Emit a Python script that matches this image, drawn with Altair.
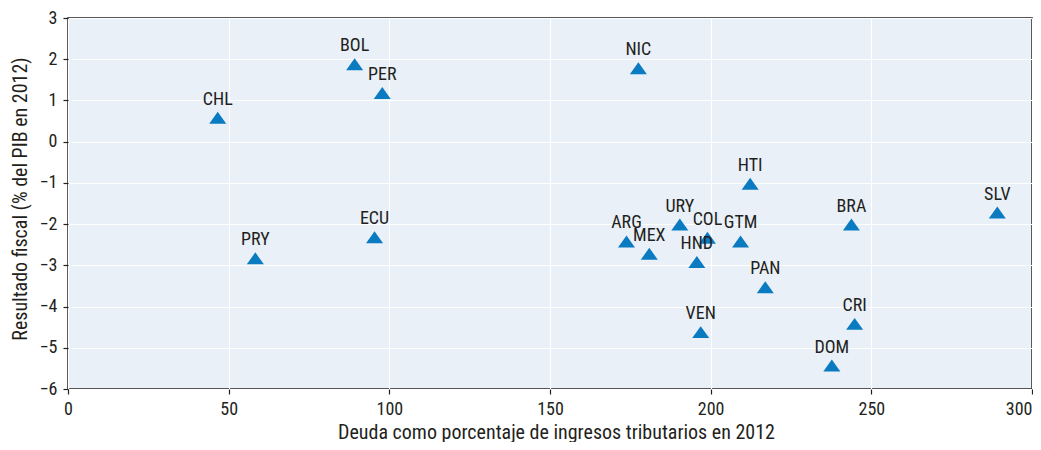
import altair as alt
import pandas as pd

paises = ["CHL", "BOL", "PER", "NIC", "PRY", "ECU", "ARG", "MEX", "URY", "COL",
          "HND", "GTM", "HTI", "PAN", "VEN", "DOM", "CRI", "BRA", "SLV"]
deuda = [46.6, 89.2, 97.8, 177.5, 58.3, 95.4, 173.8, 180.9, 190.4, 199.0,
         195.7, 209.3, 212.3, 217.0, 196.9, 237.7, 244.8, 243.8, 289.2]
resultado = [0.58, 1.88, 1.18, 1.78, -2.83, -2.32, -2.42, -2.72, -2.01, -2.33,
             -2.92, -2.42, -1.02, -3.53, -4.62, -5.43, -4.42, -2.01, -1.72]

x_ticks = [0, 50, 100, 150, 200, 250, 300]
y_ticks = [-6, -5, -4, -3, -2, -1, 0, 1, 2, 3]

df = pd.DataFrame({"pais": paises, "deuda": deuda, "resultado": resultado})

FONT = "Liberation Sans Narrow, Roboto Condensed, DejaVu Sans Condensed, Arial Narrow, sans-serif"
INK = "#231f20"

W, H = 964, 371
TOP = 10

base = alt.Chart(df).encode(
    x=alt.X("deuda:Q",
            scale=alt.Scale(domain=[0, 300], nice=False, zero=False),
            axis=alt.Axis(values=x_ticks,
                          title="Deuda como porcentaje de ingresos tributarios en 2012",
                          titleX=488, titleY=49, titleBaseline="alphabetic",
                          titleAlign="center", titleFontSize=20,
                          labelAlign=alt.ExprRef(expr="datum.value === 300 ? 'right' : 'center'"))),
    y=alt.Y("resultado:Q",
            scale=alt.Scale(domain=[-6, 3], nice=False, zero=False),
            axis=alt.Axis(values=y_ticks,
                          title="Resultado fiscal (% del PIB en 2012)",
                          titleX=-48, titleY=198.5 - (8 + TOP), titleAngle=-90,
                          titleBaseline="middle", titleAlign="center",
                          titleFontSize=20)),
)

points = base.mark_point(shape="M-1,0.7L1,0.7L0,-0.7Z", filled=True, size=290,
                         color="#0B7BC1", opacity=1)
labels = base.mark_text(dy=-13, baseline="alphabetic", align="center",
                        fontSize=18, font=FONT, color=INK).encode(text="pais:N")

chart = alt.layer(points, labels).properties(
    width=W, height=H,
    padding={"left": 60, "top": TOP, "right": 1, "bottom": 434 - TOP - H},
    autosize=alt.AutoSizeParams(type="none"),
).configure_view(
    fill="#E9F0F8", stroke=INK, strokeWidth=1.6
).configure_axis(
    grid=True, gridColor="white", gridWidth=1.2, domain=False,
    tickColor=INK, tickSize=5, tickWidth=1.2, labelFlush=False,
    labelFont=FONT, labelFontSize=18, labelColor=INK, labelPadding=6,
    titleFont=FONT, titleFontWeight="normal", titleColor=INK,
)

chart.save("out.html", embed_options={"renderer": "svg", "actions": False})
